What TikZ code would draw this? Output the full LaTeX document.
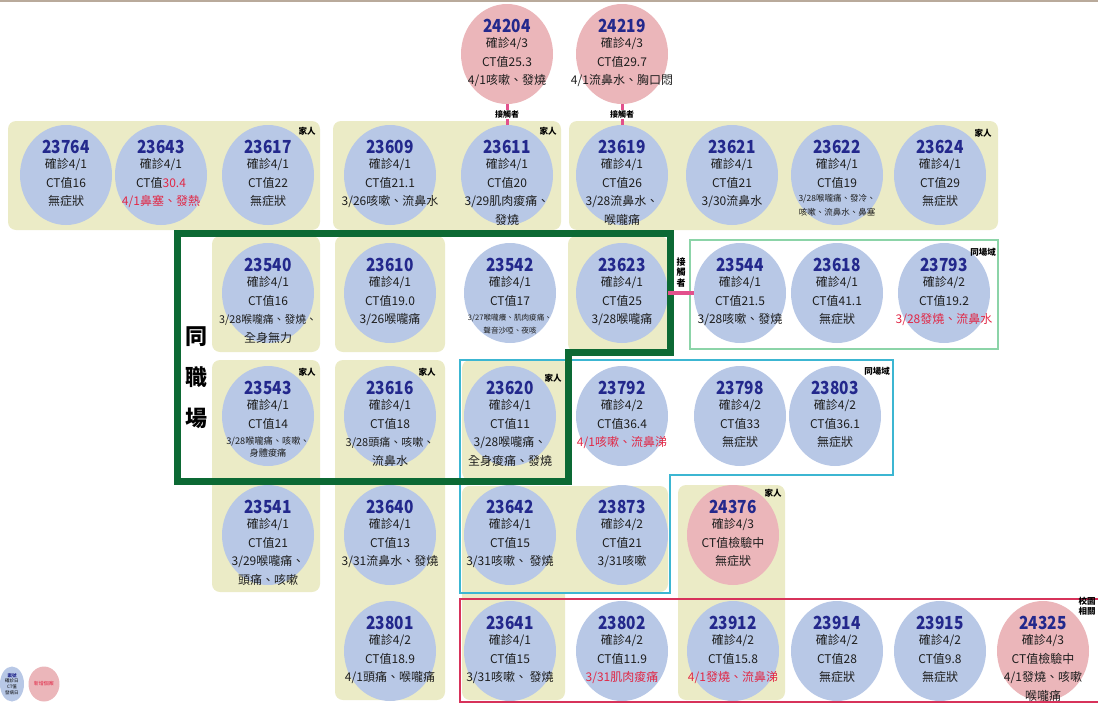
\documentclass[tikz,border=0pt]{standalone}
\usepackage{fontspec}
\setmainfont{Noto Sans CJK TC}
\newfontfamily\numfam{Noto Sans CJK TC}[FakeStretch=0.86]
\usetikzlibrary{shapes.geometric}
\definecolor{bluefill}{RGB}{184,200,230}
\definecolor{pinkfill}{RGB}{235,182,186}
\definecolor{bgyellow}{RGB}{235,235,198}
\definecolor{navy}{RGB}{35,40,140}
\definecolor{redtxt}{RGB}{225,40,70}
\definecolor{dkgreen}{RGB}{12,105,52}
\definecolor{cyanline}{RGB}{60,182,210}
\definecolor{ltgreen}{RGB}{140,212,168}
\definecolor{crimson}{RGB}{215,50,90}
\definecolor{magentaln}{RGB}{226,80,140}
\definecolor{topline}{RGB}{185,170,155}
\definecolor{txt}{RGB}{30,30,30}
\tikzset{
  case/.style={ellipse, minimum width=92pt, minimum height=100pt, inner sep=0pt},
  casetext/.style={align=center, inner sep=0pt, text=txt, font=\fontsize{12}{18.5}\selectfont},
  bgbox/.style={fill=bgyellow, rounded corners=8pt},
  tag/.style={inner sep=0pt, align=center, font=\fontsize{8.5}{9.5}\selectfont\bfseries},
  contact/.style={draw=magentaln, line width=3pt},
  contactlbl/.style={fill=white, inner sep=1pt, font=\fontsize{8}{9}\selectfont\bfseries},
  vlbl/.style={inner sep=0pt, align=center, font=\fontsize{9}{10.5}\selectfont\bfseries},
}
\newcommand\numf{\numfam\fontsize{18}{18.5}\selectfont\bfseries\color{navy}}
\newcommand\rt[1]{\textcolor{redtxt}{#1}}
\newcommand\fsz[2]{{\fontsize{#1}{#1}\selectfont #2}}
\newcommand\casenode[5]{%
  \node[case, fill=#4] (c#1) at (#2,#3) {};
  \node[casetext, anchor=north] (t#1) at (#2,#3-35) {{\numf #1}\\[-3.5pt]#5};
}
\begin{document}
\begin{tikzpicture}[x=1pt,y=-1pt]
\useasboundingbox (0,0) rectangle (1098,704);
\draw[topline, line width=1.5pt] (0,1) -- (1098,1);
% backgrounds
\fill[bgbox] (8,121) rectangle (320,230);
\fill[bgbox] (333,121) rectangle (561,230);
\fill[bgbox] (569,121) rectangle (998,230);
\fill[bgbox] (212,236) rectangle (320,352);
\fill[bgbox] (335,236) rectangle (445,352);
\fill[bgbox] (568,236) rectangle (668,352);
\fill[bgbox] (212,360) rectangle (320,592);
\fill[bgbox] (335,360) rectangle (445,700);
\fill[bgbox] (462,360) rectangle (568,480);
\fill[bgbox] (462,486) rectangle (668,592);
\fill[bgbox] (462,486) rectangle (565,700);
\fill[bgbox] (678,485) rectangle (785,700);
% cases
\casenode{24204}{507}{54}{pinkfill}{確診4/3\\CT值25.3\\4/1咳嗽、發燒}
\casenode{24219}{622}{54}{pinkfill}{確診4/3\\CT值29.7\\4/1流鼻水、胸口悶}
\casenode{23764}{66}{175}{bluefill}{確診4/1\\CT值16\\無症狀}
\casenode{23643}{161}{175}{bluefill}{確診4/1\\CT值\rt{30.4}\\\rt{4/1鼻塞、發熱}}
\casenode{23617}{268}{175}{bluefill}{確診4/1\\CT值22\\無症狀}
\casenode{23609}{390}{175}{bluefill}{確診4/1\\CT值21.1\\3/26咳嗽、流鼻水}
\casenode{23611}{507}{175}{bluefill}{確診4/1\\CT值20\\3/29肌肉痠痛、\\發燒}
\casenode{23619}{622}{175}{bluefill}{確診4/1\\CT值26\\3/28流鼻水、\\喉嚨痛}
\casenode{23621}{732}{175}{bluefill}{確診4/1\\CT值21\\3/30流鼻水}
\casenode{23622}{837}{175}{bluefill}{確診4/1\\CT值19\\[-4pt]\fsz{8.5}{3/28喉嚨痛、發冷、}\\[-4.5pt]\fsz{8.5}{咳嗽、流鼻水、鼻塞}}
\casenode{23624}{940}{175}{bluefill}{確診4/1\\CT值29\\無症狀}
\casenode{23540}{268}{293}{bluefill}{確診4/1\\CT值16\\\fsz{10.8}{3/28喉嚨痛、發燒、}\\全身無力}
\casenode{23610}{390}{293}{bluefill}{確診4/1\\CT值19.0\\3/26喉嚨痛}
\casenode{23542}{510}{293}{bluefill}{確診4/1\\CT值17\\[-3pt]\fsz{7.6}{3/27喉嚨癢、肌肉痠痛、}\\[-6pt]\fsz{7.6}{聲音沙啞、夜咳}}
\casenode{23623}{622}{293}{bluefill}{確診4/1\\CT值25\\3/28喉嚨痛}
\casenode{23544}{740}{293}{bluefill}{確診4/1\\CT值21.5\\3/28咳嗽、發燒}
\casenode{23618}{837}{293}{bluefill}{確診4/1\\CT值41.1\\無症狀}
\casenode{23793}{944}{293}{bluefill}{確診4/2\\CT值19.2\\\rt{3/28發燒、流鼻水}}
\casenode{23543}{268}{416}{bluefill}{確診4/1\\CT值14\\[-2pt]\fsz{9.2}{3/28喉嚨痛、咳嗽、}\\[-7pt]\fsz{9.2}{身體痠痛}}
\casenode{23616}{390}{416}{bluefill}{確診4/1\\CT值18\\\fsz{11}{3/28頭痛、咳嗽、}\\流鼻水}
\casenode{23620}{510}{416}{bluefill}{確診4/1\\CT值11\\3/28喉嚨痛、\\全身痠痛、發燒}
\casenode{23792}{622}{416}{bluefill}{確診4/2\\CT值36.4\\\rt{4/1咳嗽、流鼻涕}}
\casenode{23798}{740}{416}{bluefill}{確診4/2\\CT值33\\無症狀}
\casenode{23803}{835}{416}{bluefill}{確診4/2\\CT值36.1\\無症狀}
\casenode{23541}{268}{535}{bluefill}{確診4/1\\CT值21\\3/29喉嚨痛、\\頭痛、咳嗽}
\casenode{23640}{390}{535}{bluefill}{確診4/1\\CT值13\\3/31流鼻水、發燒}
\casenode{23642}{510}{535}{bluefill}{確診4/1\\CT值15\\3/31咳嗽、 發燒}
\casenode{23873}{622}{535}{bluefill}{確診4/2\\CT值21\\3/31咳嗽}
\casenode{24376}{733}{535}{pinkfill}{確診4/3\\CT值檢驗中\\無症狀}
\casenode{23801}{390}{651}{bluefill}{確診4/2\\CT值18.9\\4/1頭痛、喉嚨痛}
\casenode{23641}{510}{651}{bluefill}{確診4/1\\CT值15\\3/31咳嗽、 發燒}
\casenode{23802}{622}{651}{bluefill}{確診4/2\\CT值11.9\\\rt{3/31肌肉痠痛}}
\casenode{23912}{733}{651}{bluefill}{確診4/2\\CT值15.8\\\rt{4/1發燒、流鼻涕}}
\casenode{23914}{837}{651}{bluefill}{確診4/2\\CT值28\\無症狀}
\casenode{23915}{940}{651}{bluefill}{確診4/2\\CT值9.8\\無症狀}
\casenode{24325}{1043}{651}{pinkfill}{確診4/3\\CT值檢驗中\\4/1發燒、咳嗽\\喉嚨痛}
% frames
\draw[cyanline, line width=2pt] (460,360) -- (893,360) -- (893,475) -- (670,475) -- (670,593) -- (460,593) -- cycle;
\draw[ltgreen, line width=1.5pt] (690,240) rectangle (998,349);
\draw[crimson, line width=2pt] (1105,599) -- (460,599) -- (460,702) -- (1105,702);
\draw[dkgreen, line width=7pt] (177,233) -- (670,233) -- (670,352) -- (568,352) -- (568,481) -- (177,481) -- cycle;
\node[inner sep=0pt, align=center, font=\fontsize{22}{41}\selectfont\bfseries] (workplace) at (196,378) {同\\職\\場};
% contacts
\draw[contact] (c24204) -- node[contactlbl] (k1) {接觸者} (c23611);
\draw[contact] (c24219) -- node[contactlbl] (k2) {接觸者} (c23619);
\draw[contact, line width=4pt] (c23623) -- node[vlbl, above=4pt] (k3) {接\\觸\\者} (c23544);
% tags
\node[tag] (g1) at (307,131) {家人};
\node[tag] (g2) at (548,131) {家人};
\node[tag] (g3) at (983,133) {家人};
\node[tag] (g4) at (983,252) {同場域};
\node[tag] (g5) at (307,372) {家人};
\node[tag] (g6) at (427,372) {家人};
\node[tag] (g7) at (553,378) {家人};
\node[tag] (g8) at (877,371) {同場域};
\node[tag] (g9) at (773,493) {家人};
\node[tag] (g10) at (1087,606) {校園\\相關};
% legend
\node[ellipse, fill=bluefill, minimum width=24pt, minimum height=35pt, inner sep=0pt] (legA) at (12,684) {};
\node[inner sep=0pt, align=center, font=\fontsize{4.5}{5.6}\selectfont] (legAt) at (12,684) {{\color{navy}\bfseries 案號}\\確診日\\CT值\\發病日};
\node[ellipse, fill=pinkfill, minimum width=31pt, minimum height=35pt, inner sep=0pt] (legB) at (44,684) {};
\node[inner sep=0pt, text=redtxt, font=\fontsize{5}{6}\selectfont] (legBt) at (44,684) {新增個案};
\end{tikzpicture}
\end{document}
